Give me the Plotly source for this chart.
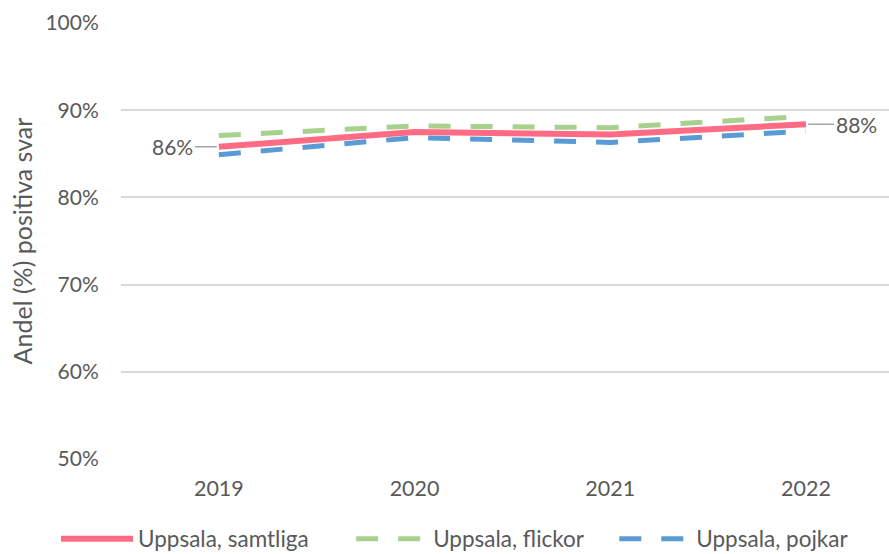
import plotly.graph_objects as go

years = ["2019", "2020", "2021", "2022"]
samtliga = [85.8, 87.5, 87.2, 88.4]
flickor = [87.1, 88.2, 88.0, 89.3]
pojkar = [84.9, 86.85, 86.3, 87.6]
y_ticks = [50, 60, 70, 80, 90, 100]
y_tick_text = ["50%", "60%", "70%", "80%", "90%", "100%"]

FONT = "Lato"
GREY = "#595959"
FS_TICK = 21
FS_LEG = 22.5

fig = go.Figure()
fig.add_trace(go.Scatter(x=years, y=samtliga, mode="lines", name="Uppsala, samtliga",
                         legend="legend", line=dict(color="#FF6B84", width=6)))
fig.add_trace(go.Scatter(x=years, y=flickor, mode="lines", name="Uppsala, flickor",
                         legend="legend2", line=dict(color="#A9D18E", width=5, dash="22px,20px")))
fig.add_trace(go.Scatter(x=years, y=pojkar, mode="lines", name="Uppsala, pojkar",
                         legend="legend3", line=dict(color="#5B9BD5", width=5, dash="22px,20px")))

annotations = [
    dict(xref="x", yref="y", x=0, y=samtliga[0], text="%d%%" % round(samtliga[0]),
         showarrow=True, arrowhead=0, arrowwidth=1.5, arrowcolor="#A6A6A6",
         axref="pixel", ayref="pixel", ax=-46, ay=0, standoff=2,
         font=dict(size=FS_TICK, color=GREY, family=FONT)),
    dict(xref="x", yref="y", x=3, y=samtliga[-1], text="%d%%" % round(samtliga[-1]),
         showarrow=True, arrowhead=0, arrowwidth=1.5, arrowcolor="#A6A6A6",
         axref="pixel", ayref="pixel", ax=50, ay=0, standoff=2,
         font=dict(size=FS_TICK, color=GREY, family=FONT)),
]


def leg(xpos):
    return dict(orientation="h", xref="container", x=xpos, xanchor="left",
                yref="container", y=0.027, yanchor="middle",
                font=dict(size=FS_LEG, color=GREY, family=FONT), itemwidth=72,
                bgcolor="rgba(0,0,0,0)")


fig.update_layout(
    width=889, height=554,
    margin=dict(l=121, r=0, t=23, b=95),
    paper_bgcolor="white", plot_bgcolor="white",
    font=dict(family=FONT, color=GREY, size=FS_TICK),
    annotations=annotations,
    showlegend=True,
    legend=leg(0.063),
    legend2=leg(0.395),
    legend3=leg(0.691),
    xaxis=dict(type="category", range=[-0.5, 3.424], showgrid=False, showline=False,
               automargin=False,
               ticks="outside", ticklen=10, tickcolor="rgba(0,0,0,0)",
               tickfont=dict(size=21.5, color=GREY, family=FONT)),
    yaxis=dict(range=[50, 100], tickvals=y_ticks, ticktext=y_tick_text,
               automargin=False,
               showgrid=True, gridcolor="#D9D9D9", gridwidth=1.5, zeroline=False,
               showline=False, ticks="outside", ticklen=17, tickcolor="rgba(0,0,0,0)",
               tickfont=dict(size=FS_TICK, color=GREY, family=FONT),
               title=dict(text="Andel (%) positiva svar", standoff=5,
                          font=dict(size=25, color=GREY, family=FONT))),
)

fig.write_html("out.html", config={"displayModeBar": False},
               post_script="document.body.style.margin='0';document.body.style.overflow='hidden';")
